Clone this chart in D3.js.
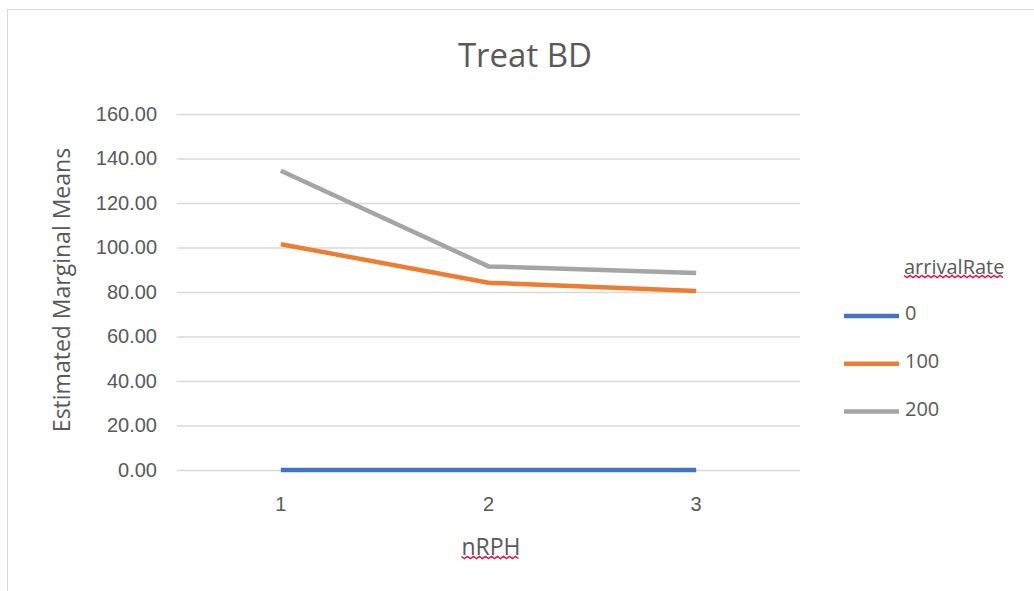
<!DOCTYPE html>
<html lang="en">
<head>
    <meta charset="UTF-8">
    <title>Treat BD</title>
    <script src="https://d3js.org/d3.v7.min.js"></script>
    <style>
        body { margin: 0; background: #fff; }
        svg { display: block; font-family: "Open Sans", sans-serif; }
    </style>
</head>
<body>
    <script>
        let width = 1034,
            height = 591;
        let margin = { top: 114, left: 177, right: 234, bottom: 121 };

        /* 数据 */
        let categories = ["1", "2", "3"];
        let seriesNames = ["0", "100", "200"];
        let series0 = [0, 0, 0];
        let series100 = [101.5, 84.2, 80.5];
        let series200 = [134.5, 91.5, 88.5];
        let yTicks = [0, 20, 40, 60, 80, 100, 120, 140, 160];
        let colors = ["#4472C4", "#ED7D31", "#A5A5A5"];
        let allSeries = [series0, series100, series200];

        let svg = d3.select("body")
                    .append("svg")
                    .attr("width", width)
                    .attr("height", height);

        // 图表外框（只露出左边和上边）
        svg.append("rect")
           .attr("x", 7.5).attr("y", 9.5)
           .attr("width", width + 20).attr("height", height + 20)
           .attr("fill", "none")
           .attr("stroke", "#d9d9d9");

        let xScale = d3.scaleBand()
                       .domain(categories)
                       .range([margin.left, width - margin.right]);
        let yScale = d3.scaleLinear()
                       .domain([0, 160])
                       .range([height - margin.bottom, margin.top]);

        /* 网格线 + Y轴 */
        let yAxis = d3.axisLeft(yScale)
                      .tickValues(yTicks)
                      .tickSize(-(width - margin.left - margin.right))
                      .tickPadding(20)
                      .tickFormat(d3.format(".2f"));
        let gy = svg.append("g")
                    .attr("transform", `translate(${margin.left}, 0)`)
                    .call(yAxis);
        gy.select(".domain").remove();
        gy.selectAll(".tick line").attr("stroke", "#d9d9d9").attr("stroke-width", 1.3);
        gy.selectAll(".tick text")
          .attr("fill", "#595959")
          .style("font-size", "20px");

        /* X轴 */
        let xAxis = d3.axisBottom(xScale).tickSize(0).tickPadding(27);
        let gx = svg.append("g")
                    .attr("transform", `translate(0, ${yScale(0)})`)
                    .call(xAxis);
        gx.select(".domain").remove();
        gx.selectAll(".tick text")
          .attr("fill", "#595959")
          .style("font-size", "20px");

        /* 折线 */
        let line = d3.line()
                     .x((d, i) => xScale(categories[i]) + xScale.bandwidth() / 2)
                     .y(d => yScale(d));
        allSeries.forEach((s, k) => {
            svg.append("path")
               .datum(s)
               .attr("d", line)
               .attr("fill", "none")
               .attr("stroke", colors[k])
               .attr("stroke-width", 4.5);
        });

        /* 标题 */
        svg.append("text")
           .attr("x", 525).attr("y", 67)
           .attr("text-anchor", "middle")
           .attr("fill", "#595959")
           .style("font-size", "33px")
           .text("Treat BD");

        svg.append("text")
           .attr("transform", "translate(70, 290) rotate(-90)")
           .attr("text-anchor", "middle")
           .attr("fill", "#595959")
           .style("font-size", "23px")
           .text("Estimated Marginal Means");

        // 红色波浪下划线
        function squiggle(textSel, yOff) {
            let b = textSel.node().getBBox();
            let y0 = +textSel.attr("y") + yOff;
            let pts = [];
            for (let x = b.x; x <= b.x + b.width; x += 3) {
                pts.push([x, y0 + ((Math.round((x - b.x) / 3) % 2) ? 2 : 0)]);
            }
            svg.append("path")
               .attr("d", d3.line()(pts))
               .attr("fill", "none")
               .attr("stroke", "#e8104a")
               .attr("stroke-width", 1.5);
        }

        let xTitle = svg.append("text")
                        .attr("x", 491).attr("y", 555)
                        .attr("text-anchor", "middle")
                        .attr("fill", "#595959")
                        .style("font-size", "23px")
                        .text("nRPH");
        squiggle(xTitle, 1.5);

        /* 图例 */
        let legTitle = svg.append("text")
                          .attr("x", 904).attr("y", 274)
                          .attr("fill", "#595959")
                          .style("font-size", "20px")
                          .text("arrivalRate");
        squiggle(legTitle, 1.5);

        let leg = svg.selectAll(".leg")
                     .data(seriesNames)
                     .enter()
                     .append("g")
                     .attr("class", "leg")
                     .attr("transform", (d, i) => `translate(844, ${316 + i * 47.8})`);
        leg.append("line")
           .attr("x1", 0).attr("x2", 55)
           .attr("stroke", (d, i) => colors[i])
           .attr("stroke-width", 4.5);
        leg.append("text")
           .attr("x", 61).attr("y", 4)
           .attr("fill", "#595959")
           .style("font-size", "20px")
           .text(d => d);
    </script>
</body>
</html>
